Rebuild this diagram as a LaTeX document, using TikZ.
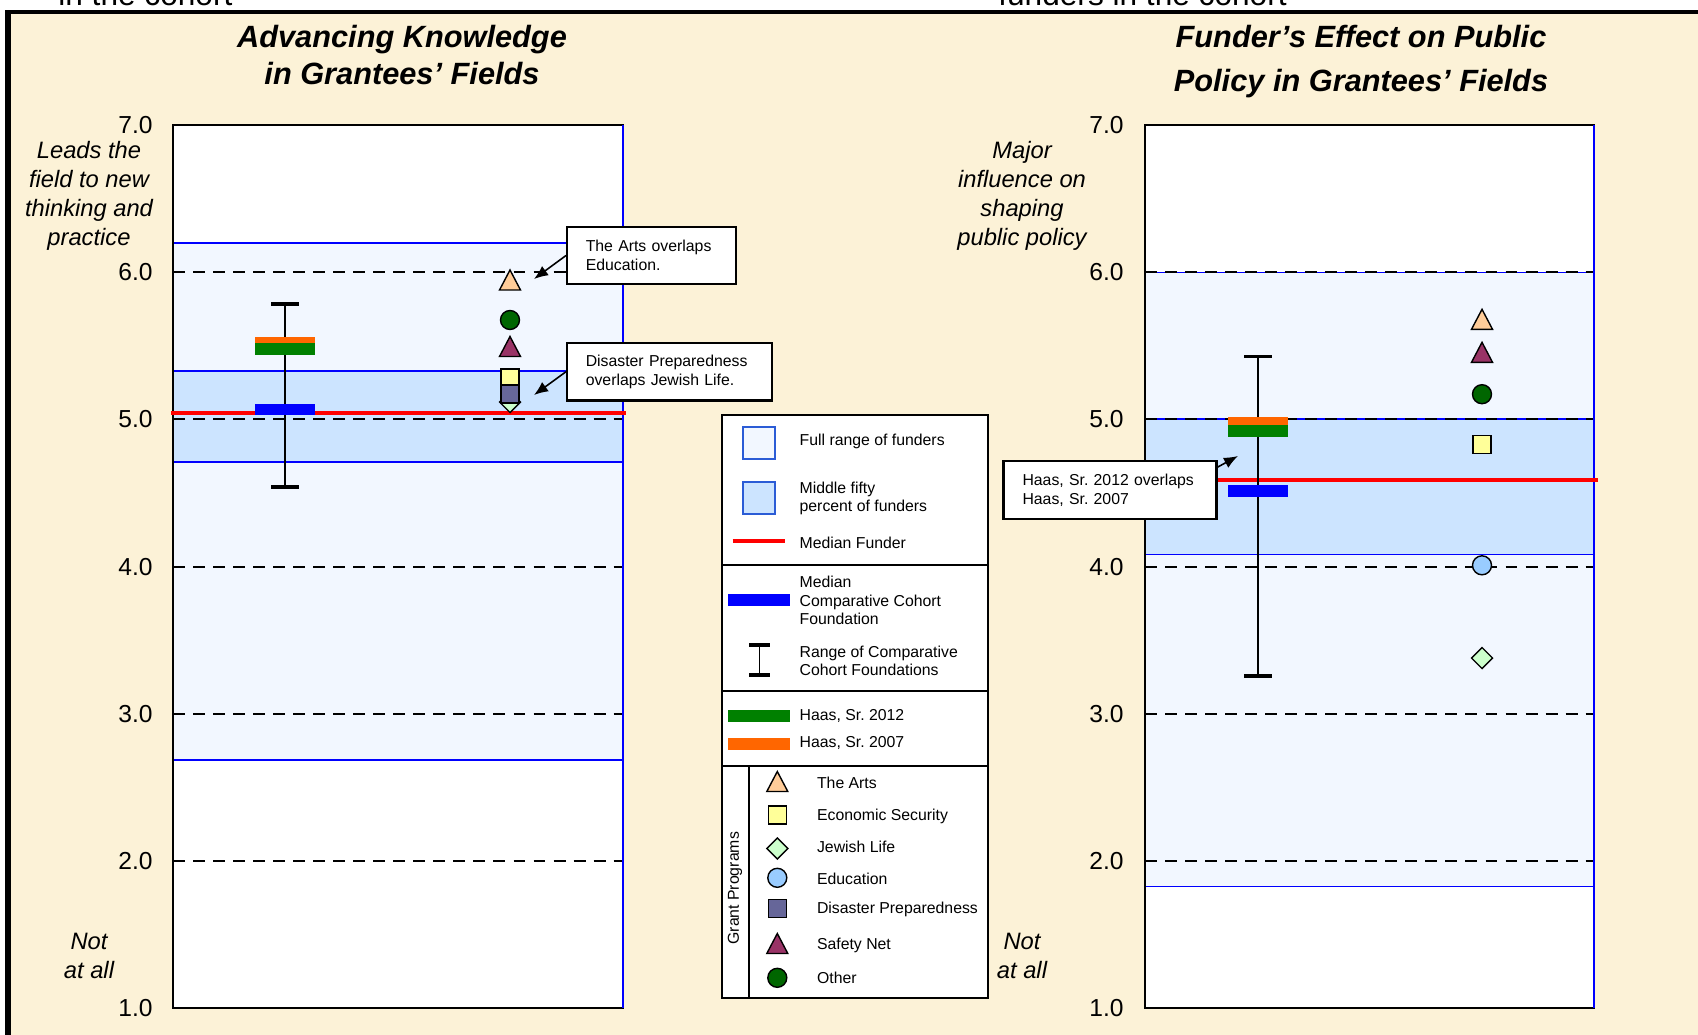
\documentclass[tikz,border=0pt]{standalone}
\usepackage{fontspec}
\setmainfont{Liberation Sans}
\usetikzlibrary{arrows.meta}
\frenchspacing

\definecolor{beige}{HTML}{FCF2D7}
\definecolor{fullrange}{HTML}{F2F7FF}
\definecolor{midfifty}{HTML}{CCE4FF}
\definecolor{swatchline}{HTML}{2B5CD6}
\definecolor{haasold}{HTML}{FF6600}
\definecolor{haasnew}{HTML}{008000}
\definecolor{arts}{HTML}{FFCC99}
\definecolor{econ}{HTML}{FFFF99}
\definecolor{jewish}{HTML}{CCFFCC}
\definecolor{educ}{HTML}{99CCFF}
\definecolor{disaster}{HTML}{666699}
\definecolor{safety}{HTML}{993366}
\definecolor{other}{HTML}{006600}

% markers: x, y, fill colour
\newcommand{\mtri}[3]{\filldraw[marker,fill=#3] (#1-10.5,#2+10) -- (#1,#2-10) -- (#1+10.5,#2+10) -- cycle;}
\newcommand{\msq}[3]{\filldraw[marker,fill=#3] (#1-9,#2-9) rectangle (#1+9,#2+9);}
\newcommand{\mdia}[3]{\filldraw[marker,fill=#3] (#1-10.5,#2) -- (#1,#2-10.5) -- (#1+10.5,#2) -- (#1,#2+10.5) -- cycle;}
\newcommand{\mdot}[3]{\filldraw[marker,fill=#3] (#1,#2) circle [radius=9.5];}
% bars: x, y, colour
\newcommand{\scorebar}[3]{\fill[#3] (#1-30,#2-5.75) rectangle (#1+30,#2+5.75);}
\newcommand{\rangebar}[3]{\draw[rangeline] (#1,#2) -- (#1,#3);
  \draw[rangecap] (#1-14,#2) -- (#1+14,#2) (#1-14,#3) -- (#1+14,#3);}

\begin{document}
\begin{tikzpicture}[x=0.02cm,y=-0.02cm,
    declare function={sy(\v)=125+(7-\v)*147.2;},
    frame/.style={black,line width=1.4pt},
    rangeedge/.style={blue,line width=0.85pt},
    gridline/.style={black,line width=1.1pt,dash pattern=on 6.8pt off 4.6pt},
    median/.style={red,line width=2.8pt},
    marker/.style={black,line width=0.8pt},
    rangeline/.style={black,line width=0.9pt},
    rangecap/.style={black,line width=1.8pt},
    ttl/.style={font=\fontsize{17.5}{20.8}\selectfont\bfseries\itshape,align=center},
    tick/.style={font=\fontsize{14}{16}\selectfont,anchor=east,inner sep=0pt},
    side/.style={font=\fontsize{13.5}{16.5}\selectfont\itshape,align=center,inner sep=0pt},
    lgd/.style={font=\fontsize{9}{10.4}\selectfont,anchor=west,align=left,inner sep=0pt},
    callout/.style={draw,fill=white,line width=1.2pt,font=\fontsize{9}{10.8}\selectfont,
      align=left,inner xsep=0.374cm,minimum height=1.15cm},
    pointer/.style={black,line width=0.9pt,-{Latex[length=8pt,width=6.5pt]}}]
\useasboundingbox (0,0) rectangle (1698,1035);
% page and frame
\fill[white] (0,0) rectangle (1698,1035);
\fill[beige] (10,13) rectangle (1698,1035);
\fill[black] (5,9.5) rectangle (1698,14);
\fill[black] (5,9.5) rectangle (10.5,1035);
\begin{scope}
  \clip (0,0) rectangle (1698,9.5);
  \node[anchor=base west,inner sep=0pt,font=\fontsize{18}{20}\selectfont] (cutleft) at (58,5) {in the cohort};
  \node[anchor=base west,inner sep=0pt,font=\fontsize{18}{20}\selectfont] (cutright) at (998,5) {funders in the cohort};
\end{scope}

% titles and axis text
\node[ttl] (titleleft) at (402,55) {Advancing Knowledge\\in Grantees’ Fields};
\node[ttl,font=\fontsize{17.5}{24.6}\selectfont\bfseries\itshape] (titleright) at (1361,61.5) {Funder’s Effect on Public\\Policy in Grantees’ Fields};
\foreach \v in {1,...,7} {
  \node[tick] (lefttick\v) at (153,{sy(\v)}) {\v.0};
  \node[tick] (righttick\v) at (1124,{sy(\v)}) {\v.0};
}
\node[side] (lefttop) at (89,196) {Leads the\\field to new\\thinking and\\practice};
\node[side] (righttop) at (1022,196) {Major\\influence on\\shaping\\public policy};
\node[side] (leftbottom) at (89,955.5) {Not\\at all};
\node[side] (rightbottom) at (1022,955.5) {Not\\at all};

% left plot
\fill[white] (173,125) rectangle (623,1008);
\fill[fullrange] (173,243) rectangle (623,760);
\fill[midfifty] (173,371) rectangle (623,462);
\draw[rangeedge] (173,243) -- (623,243) (173,760) -- (623,760);
\draw[rangeedge] (173,371) -- (623,371) (173,462) -- (623,462);
\foreach \v in {2,...,6}
  \draw[gridline] (173,{sy(\v)}) -- (623,{sy(\v)});
\draw[frame] (173,125) rectangle (623,1008);
\draw[blue,line width=1.2pt] (623,125) -- (623,1008);
\draw[median] (171,413) -- (626,413);
\rangebar{285}{304}{487}
\scorebar{285}{343}{haasold}
\scorebar{285}{349}{haasnew}
\scorebar{285}{409.5}{blue}
\mtri{510}{280}{arts}
\mdot{510}{320}{other}
\mtri{510}{346.5}{safety}
\mdia{510}{402}{jewish}
\msq{510}{378}{econ}
\msq{510}{393.8}{disaster}
\node[callout,text width=2.63cm] (artsnote) at (651.5,255.5) {The Arts overlaps\\Education.};
\node[callout,text width=3.35cm] (disasternote) at (669.5,371.7) {Disaster Preparedness\\overlaps Jewish Life.};
\coordinate (artstip) at (534,279);
\coordinate (disastertip) at (534,395);
\draw[pointer] (artsnote.west) -- (artstip);
\draw[pointer] (disasternote.west) -- (disastertip);

% right plot
\fill[white] (1145,125) rectangle (1594,1008);
\fill[fullrange] (1145,272.6) rectangle (1594,886.7);
\fill[midfifty] (1145,419) rectangle (1594,554.3);
\draw[rangeedge] (1145,272.6) -- (1594,272.6) (1145,886.7) -- (1594,886.7);
\draw[rangeedge] (1145,419) -- (1594,419) (1145,554.3) -- (1594,554.3);
\foreach \v in {2,...,6}
  \draw[gridline] (1145,{sy(\v)}) -- (1594,{sy(\v)});
\draw[frame] (1145,125) rectangle (1594,1008);
\draw[blue,line width=1.2pt] (1594,125) -- (1594,1008);
\draw[median] (1145,480) -- (1598,480);
\rangebar{1258}{356.7}{676}
\scorebar{1258}{423}{haasold}
\scorebar{1258}{431}{haasnew}
\scorebar{1258}{491}{blue}
\mtri{1482}{319.3}{arts}
\mtri{1482}{352.3}{safety}
\mdot{1482}{394.2}{other}
\msq{1482}{444.7}{econ}
\mdot{1482}{565.3}{educ}
\mdia{1482}{658}{jewish}
\node[callout,text width=3.5cm,inner xsep=0.38cm] (haasnote) at (1110,490) {Haas, Sr. 2012 overlaps\\Haas, Sr. 2007};
\coordinate (haastip) at (1238,456);
\draw[pointer] (haasnote.12) -- (haastip);

% legend
\draw[fill=white,line width=1.1pt] (721.7,415) rectangle (988,998.3);
\draw[line width=1.3pt] (721.7,564.7) -- (988,564.7) (721.7,690.7) -- (988,690.7) (721.7,766) -- (988,766);
\draw[line width=1.3pt] (749,766) -- (749,998.3);
\draw[fill=fullrange,draw=swatchline,line width=1.1pt] (742.7,426.7) rectangle (775.3,459);
\draw[fill=midfifty,draw=swatchline,line width=1.1pt] (742.7,481.7) rectangle (775.3,514);
\draw[red,line width=2.8pt] (732.7,541) -- (785,541);
\fill[blue] (728,594.3) rectangle (790,605.7);
\draw[rangeline] (759.7,645) -- (759.7,675);
\draw[rangecap] (749.3,645) -- (770,645) (749.3,675) -- (770,675);
\fill[haasnew] (728,710) rectangle (790,721.7);
\fill[haasold] (728,738) rectangle (790,749.7);
\node[lgd] (lgdfull) at (799.3,441.7) {Full range of funders};
\node[lgd] (lgdmid) at (799.3,498.3) {Middle fifty\\percent of funders};
\node[lgd] (lgdmedian) at (799.3,542.7) {Median Funder};
\node[lgd] (lgdcohort) at (799.3,600.5) {Median\\Comparative Cohort\\Foundation};
\node[lgd] (lgdrange) at (799.3,660.5) {Range of Comparative\\Cohort Foundations};
\node[lgd] (lgdnew) at (799.3,715.7) {Haas, Sr. 2012};
\node[lgd] (lgdold) at (799.3,743.3) {Haas, Sr. 2007};
\node[lgd,anchor=center,rotate=90] (lgdgrant) at (735,888.3) {Grant Programs};
\mtri{777.3}{781.5}{arts}
\msq{777.3}{815}{econ}
\mdia{777.3}{848.5}{jewish}
\mdot{777.3}{877.8}{educ}
\msq{777.3}{908.7}{disaster}
\mtri{777.3}{943.5}{safety}
\mdot{777.3}{977.8}{other}
\node[lgd] (lgdarts) at (816.7,782.7) {The Arts};
\node[lgd] (lgdecon) at (816.7,816.7) {Economic Security};
\node[lgd] (lgdjewish) at (816.7,846.7) {Jewish Life};
\node[lgd] (lgdeduc) at (816.7,878.7) {Education};
\node[lgd] (lgddisaster) at (816.7,909.7) {Disaster Preparedness};
\node[lgd] (lgdsafety) at (816.7,945) {Safety Net};
\node[lgd] (lgdother) at (816.7,978.3) {Other};
\end{tikzpicture}
\end{document}
